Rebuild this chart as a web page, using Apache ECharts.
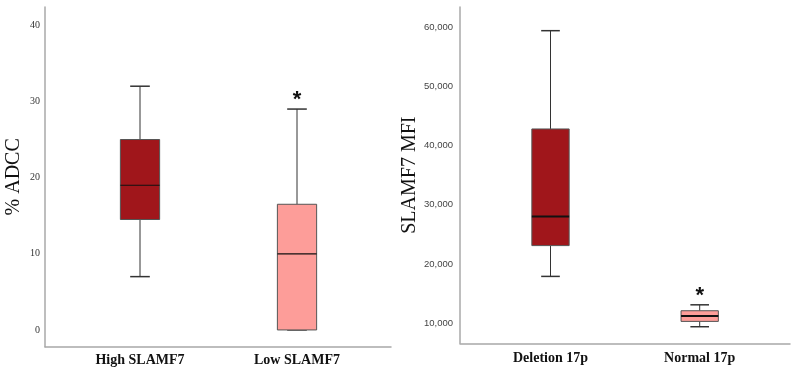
<!DOCTYPE html>
<html>
<head>
<meta charset="utf-8">
<script src="https://cdn.jsdelivr.net/npm/echarts@6/dist/echarts.min.js"></script>
<style>
html,body{margin:0;padding:0;background:#fff;}
#chart{width:798px;height:375px;}
</style>
</head>
<body>
<div id="chart"></div>
<script>
// ---- Data (left panel) ----
var leftCategories = ['High SLAMF7', 'Low SLAMF7'];
var leftMin    = [7, 0];
var leftQ1     = [14.5, 0];
var leftMedian = [19, 10];
var leftQ3     = [25, 16.5];
var leftMax    = [32, 29];
var leftMarks  = ['', '*'];

// ---- Data (right panel) ----
var rightCategories = ['Deletion 17p', 'Normal 17p'];
var rightMin    = [17900, 9400];
var rightQ1     = [23100, 10300];
var rightMedian = [28000, 11200];
var rightQ3     = [42800, 12100];
var rightMax    = [59400, 13100];
var rightMarks  = ['', '*'];

var boxColors = ['#A0161B', '#FD9D99'];

function buildRows(mins, q1s, meds, q3s, maxs) {
  return mins.map(function (v, i) { return [i, mins[i], q1s[i], meds[i], q3s[i], maxs[i]]; });
}

function makeRender(marks, medianWidth) {
  return function (params, api) {
    var i = api.value(0);
    var lo = api.coord([i, api.value(1)]);
    var q1 = api.coord([i, api.value(2)]);
    var md = api.coord([i, api.value(3)]);
    var q3 = api.coord([i, api.value(4)]);
    var hi = api.coord([i, api.value(5)]);
    var bw = api.size([1, 0])[0] * 0.25;
    var cx = lo[0];
    var half = bw / 2, cap = bw / 4;
    var lineStyle = { stroke: '#333', lineWidth: 1 };
    var children = [
      { type: 'line', shape: { x1: cx, y1: q3[1], x2: cx, y2: hi[1] }, style: lineStyle },
      { type: 'line', shape: { x1: cx, y1: q1[1], x2: cx, y2: lo[1] }, style: lineStyle },
      { type: 'line', shape: { x1: cx - cap, y1: hi[1], x2: cx + cap, y2: hi[1] }, style: { stroke: '#333', lineWidth: 1.5 } },
      { type: 'line', shape: { x1: cx - cap, y1: lo[1], x2: cx + cap, y2: lo[1] }, style: { stroke: '#333', lineWidth: 1.5 } },
      { type: 'rect', shape: { x: cx - half, y: q3[1], width: bw, height: q1[1] - q3[1] },
        style: { fill: boxColors[i], stroke: '#555', lineWidth: 1 } },
      { type: 'line', shape: { x1: cx - half, y1: md[1], x2: cx + half, y2: md[1] }, style: { stroke: '#111', lineWidth: medianWidth } }
    ];
    if (marks[i]) {
      children.push({ type: 'text', x: cx, y: hi[1] - 20,
        style: { text: marks[i], font: 'bold 22px "Liberation Sans", Arial, sans-serif', fill: '#111', align: 'center', verticalAlign: 'top' } });
    }
    return { type: 'group', children: children };
  };
}

var axisGray = { onZero: false, lineStyle: { color: '#a8a8a8', width: 1.5 } };
function tenStep(step) {
  return function (v) { return (Math.abs(v % step) < 1e-6) ? String(v) : ''; };
}

var chart = echarts.init(document.getElementById('chart'), null, { renderer: 'canvas' });
chart.setOption({
  backgroundColor: '#fff',
  animation: false,
  grid: [
    { left: 45, top: 7, width: 346, height: 339.7 },
    { left: 61.5, top: 7, width: 314, height: 339.7 },
    { left: 460, top: 7, width: 330, height: 336.3 },
    { left: 475.9, top: 7, width: 298.4, height: 336.3 }
  ],
  xAxis: [
    { gridIndex: 0, type: 'value', min: 0, max: 1, axisLine: axisGray, axisTick: { show: false }, axisLabel: { show: false }, splitLine: { show: false } },
    { gridIndex: 1, type: 'category', data: leftCategories, axisLine: { show: false, onZero: false }, axisTick: { show: false },
      axisLabel: { margin: 7, fontFamily: '"Liberation Serif", "Times New Roman", serif', fontWeight: 'bold', fontSize: 14, color: '#111' } },
    { gridIndex: 2, type: 'value', min: 0, max: 1, axisLine: axisGray, axisTick: { show: false }, axisLabel: { show: false }, splitLine: { show: false } },
    { gridIndex: 3, type: 'category', data: rightCategories, axisLine: { show: false, onZero: false }, axisTick: { show: false },
      axisLabel: { margin: 8, fontFamily: '"Liberation Serif", "Times New Roman", serif', fontWeight: 'bold', fontSize: 14, color: '#111' } }
  ],
  yAxis: [
    { gridIndex: 0, type: 'value', min: -2.2, max: 42.4, splitNumber: 5,
      name: '% ADCC', nameLocation: 'middle', nameGap: 21,
      nameTextStyle: { fontFamily: '"Liberation Serif", "Times New Roman", serif', fontSize: 20, color: '#111' },
      axisLine: { show: true, onZero: false, lineStyle: { color: '#a8a8a8', width: 1.5 } }, axisTick: { show: false }, splitLine: { show: false },
      axisLabel: { showMinLabel: false, showMaxLabel: false, margin: 5, formatter: tenStep(10),
        fontFamily: '"Liberation Sans Narrow", "Liberation Serif", serif', fontSize: 10, color: '#333' } },
    { gridIndex: 1, type: 'value', min: -2.2, max: 42.4, show: false },
    { gridIndex: 2, type: 'value', min: 6600, max: 63400, splitNumber: 5,
      name: 'SLAMF7 MFI', nameLocation: 'middle', nameGap: 35,
      nameTextStyle: { fontFamily: '"Liberation Serif", "Times New Roman", serif', fontSize: 20, color: '#111' },
      axisLine: { show: true, onZero: false, lineStyle: { color: '#a8a8a8', width: 1.5 } }, axisTick: { show: false }, splitLine: { show: false },
      axisLabel: { showMinLabel: false, showMaxLabel: false, margin: 7,
        formatter: function (v) { return (v % 10000 === 0) ? v.toLocaleString('en-US') : ''; },
        fontFamily: '"Liberation Sans", Arial, sans-serif', fontSize: 9.5, color: '#444' } },
    { gridIndex: 3, type: 'value', min: 6600, max: 63400, show: false }
  ],
  series: [
    { type: 'custom', xAxisIndex: 1, yAxisIndex: 1, renderItem: makeRender(leftMarks, 1.2),
      data: buildRows(leftMin, leftQ1, leftMedian, leftQ3, leftMax), encode: { x: 0, y: [1, 2, 3, 4, 5] } },
    { type: 'custom', xAxisIndex: 3, yAxisIndex: 3, renderItem: makeRender(rightMarks, 2),
      data: buildRows(rightMin, rightQ1, rightMedian, rightQ3, rightMax), encode: { x: 0, y: [1, 2, 3, 4, 5] } }
  ]
});
</script>
</body>
</html>
